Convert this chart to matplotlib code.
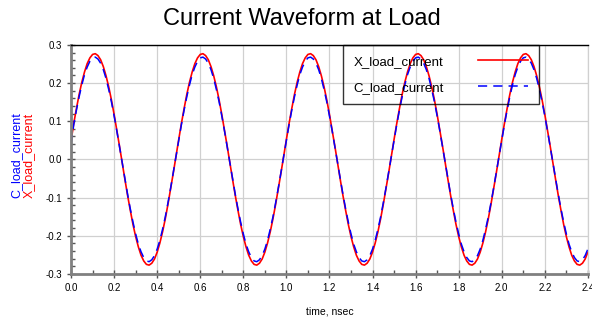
import numpy as np
import matplotlib.pyplot as plt
from matplotlib.ticker import MultipleLocator

plt.rcParams['font.family'] = ['Liberation Sans', 'DejaVu Sans']

# time axis, ns (step 0.0125)
t = np.arange(193) * 0.0125

# values, one period (0.5 ns) per 4 rows
x_load = [0.048, 0.094, 0.133, 0.170, 0.202, 0.229, 0.251, 0.266, 0.275, 0.277,
          0.272, 0.261, 0.243, 0.219, 0.190, 0.156, 0.118, 0.077, 0.035, -0.009,
          -0.052, -0.094, -0.133, -0.170, -0.202, -0.229, -0.251, -0.266, -0.275, -0.277,
          -0.272, -0.261, -0.243, -0.219, -0.190, -0.156, -0.118, -0.077, -0.035, 0.009,
          0.052, 0.094, 0.133, 0.170, 0.202, 0.229, 0.251, 0.266, 0.275, 0.277,
          0.272, 0.261, 0.243, 0.219, 0.190, 0.156, 0.118, 0.077, 0.035, -0.009,
          -0.052, -0.094, -0.133, -0.170, -0.202, -0.229, -0.251, -0.266, -0.275, -0.277,
          -0.272, -0.261, -0.243, -0.219, -0.190, -0.156, -0.118, -0.077, -0.035, 0.009,
          0.052, 0.094, 0.133, 0.170, 0.202, 0.229, 0.251, 0.266, 0.275, 0.277,
          0.272, 0.261, 0.243, 0.219, 0.190, 0.156, 0.118, 0.077, 0.035, -0.009,
          -0.052, -0.094, -0.133, -0.170, -0.202, -0.229, -0.251, -0.266, -0.275, -0.277,
          -0.272, -0.261, -0.243, -0.219, -0.190, -0.156, -0.118, -0.077, -0.035, 0.009,
          0.052, 0.094, 0.133, 0.170, 0.202, 0.229, 0.251, 0.266, 0.275, 0.277,
          0.272, 0.261, 0.243, 0.219, 0.190, 0.156, 0.118, 0.077, 0.035, -0.009,
          -0.052, -0.094, -0.133, -0.170, -0.202, -0.229, -0.251, -0.266, -0.275, -0.277,
          -0.272, -0.261, -0.243, -0.219, -0.190, -0.156, -0.118, -0.077, -0.035, 0.009,
          0.052, 0.094, 0.133, 0.170, 0.202, 0.229, 0.251, 0.266, 0.275, 0.277,
          0.272, 0.261, 0.243, 0.219, 0.190, 0.156, 0.118, 0.077, 0.035, -0.009,
          -0.052, -0.094, -0.133, -0.170, -0.202, -0.229, -0.251, -0.266, -0.275, -0.277,
          -0.272, -0.261, -0.243]
c_load = [0.040, 0.091, 0.129, 0.164, 0.195, 0.222, 0.242, 0.257, 0.266, 0.268,
          0.263, 0.252, 0.235, 0.212, 0.183, 0.151, 0.114, 0.075, 0.034, -0.008,
          -0.050, -0.091, -0.129, -0.164, -0.195, -0.222, -0.242, -0.257, -0.266, -0.268,
          -0.263, -0.252, -0.235, -0.212, -0.183, -0.151, -0.114, -0.075, -0.034, 0.008,
          0.050, 0.091, 0.129, 0.164, 0.195, 0.222, 0.242, 0.257, 0.266, 0.268,
          0.263, 0.252, 0.235, 0.212, 0.183, 0.151, 0.114, 0.075, 0.034, -0.008,
          -0.050, -0.091, -0.129, -0.164, -0.195, -0.222, -0.242, -0.257, -0.266, -0.268,
          -0.263, -0.252, -0.235, -0.212, -0.183, -0.151, -0.114, -0.075, -0.034, 0.008,
          0.050, 0.091, 0.129, 0.164, 0.195, 0.222, 0.242, 0.257, 0.266, 0.268,
          0.263, 0.252, 0.235, 0.212, 0.183, 0.151, 0.114, 0.075, 0.034, -0.008,
          -0.050, -0.091, -0.129, -0.164, -0.195, -0.222, -0.242, -0.257, -0.266, -0.268,
          -0.263, -0.252, -0.235, -0.212, -0.183, -0.151, -0.114, -0.075, -0.034, 0.008,
          0.050, 0.091, 0.129, 0.164, 0.195, 0.222, 0.242, 0.257, 0.266, 0.268,
          0.263, 0.252, 0.235, 0.212, 0.183, 0.151, 0.114, 0.075, 0.034, -0.008,
          -0.050, -0.091, -0.129, -0.164, -0.195, -0.222, -0.242, -0.257, -0.266, -0.268,
          -0.263, -0.252, -0.235, -0.212, -0.183, -0.151, -0.114, -0.075, -0.034, 0.008,
          0.050, 0.091, 0.129, 0.164, 0.195, 0.222, 0.242, 0.257, 0.266, 0.268,
          0.263, 0.252, 0.235, 0.212, 0.183, 0.151, 0.114, 0.075, 0.034, -0.008,
          -0.050, -0.091, -0.129, -0.164, -0.195, -0.222, -0.242, -0.257, -0.266, -0.268,
          -0.263, -0.252, -0.235]

fig = plt.figure(figsize=(5.92, 3.23), dpi=100)
ax = fig.add_axes([0.120, 0.152, 0.873, 0.709])

ax.plot(t, x_load, color='red', lw=1.2, label='X_load_current')
ax.plot(t, c_load, color='blue', lw=1.1, ls=(0, (6, 4)), label='C_load_current')

ax.set_xlim(0, 2.4)
ax.set_ylim(-0.3, 0.3)
ax.xaxis.set_major_locator(MultipleLocator(0.2))
ax.xaxis.set_minor_locator(MultipleLocator(0.1))
ax.yaxis.set_major_locator(MultipleLocator(0.1))
ax.yaxis.set_minor_locator(MultipleLocator(0.02))
ax.xaxis.set_major_formatter(plt.FuncFormatter(lambda v, p: '%.1f' % v))
ax.yaxis.set_major_formatter(plt.FuncFormatter(lambda v, p: '%.1f' % v))

ax.grid(True, which='major', color='#d0d0d0', lw=0.9)
ax.set_axisbelow(True)
ax.tick_params(which='major', direction='inout', length=6, width=1, colors='#555555',
               labelsize=7, labelcolor='black')
ax.tick_params(which='minor', direction='in', length=3, width=1, colors='#555555')

for s in ['left', 'bottom']:
    ax.spines[s].set_color('#808080')
    ax.spines[s].set_linewidth(2)
ax.spines['top'].set_color('black')
ax.spines['top'].set_linewidth(1)
ax.spines['right'].set_color('#d0d0d0')
ax.spines['right'].set_linewidth(0.9)

ax.set_xlabel('time, nsec', fontsize=7.5, labelpad=10)
fig.text(0.028, 0.52, 'C_load_current', color='blue', rotation=90, fontsize=9,
         ha='center', va='center')
fig.text(0.049, 0.52, 'X_load_current', color='red', rotation=90, fontsize=9,
         ha='center', va='center')

fig.suptitle('Current Waveform at Load', x=0.51, y=0.975, fontsize=17)

leg = ax.legend(loc='upper left', bbox_to_anchor=(0.526, 1.0), fontsize=9.5,
                frameon=True, fancybox=False, edgecolor='black',
                handlelength=3.8, handletextpad=2.6, borderpad=0.8,
                labelspacing=1.05, markerfirst=False, borderaxespad=0)
leg.get_frame().set_facecolor('none')
leg.get_frame().set_linewidth(1)

plt.savefig('out.png', dpi=100)
